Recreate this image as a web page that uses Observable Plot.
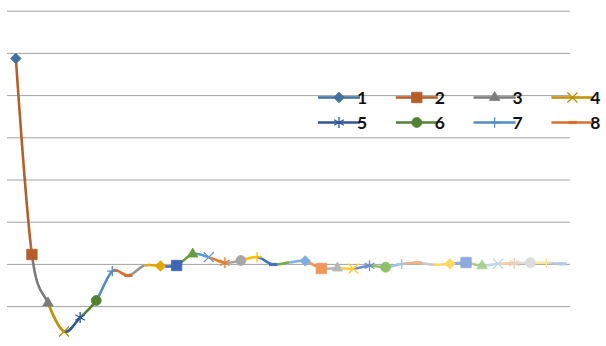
<!DOCTYPE html>
<html>
<head>
<meta charset="utf-8">
<script src="https://cdn.jsdelivr.net/npm/d3@7"></script>
<script src="https://cdn.jsdelivr.net/npm/@observablehq/plot@0.6"></script>
<style>
  body { margin: 0; background: #fff; }
  #chart { position: relative; width: 606px; height: 346px; }
</style>
</head>
<body>
<div id="chart"></div>
<script>
// Category labels (one per point along the curve)
const categories = ["1","2","3","4","5","6","7","8","9","10","11","12","13","14","15","16","17","18",
  "19","20","21","22","23","24","25","26","27","28","29","30","31","32","33","34","35"];

// Value of each point (damped oscillation settling to zero)
const values = [4.879, 0.235, -0.915, -1.590, -1.258, -0.855, -0.161, -0.263, -0.026,
  -0.038, -0.026, 0.246, 0.171, 0.038, 0.092, 0.175, -0.002, 0.045,
  0.081, -0.097, -0.085, -0.104, -0.033, -0.066, 0.009, 0.038, -0.009,
  0.014, 0.045, -0.033, 0.014, 0.028, 0.038, 0.038, 0.014];

// Horizontal gridline values
const gridValues = [-1, 0, 1, 2, 3, 4, 5, 6];

// Number of legend entries shown
const legendCount = 8;

// Per-point colours: six accents, darker first, lighter towards the end
const palette = [
  "#41719C", "#B55E27", "#7C7C7C", "#BF9000", "#2F5597", "#548235",
  "#528CC0", "#D5712C", "#959595", "#E0A800", "#3D67B0", "#639E3F",
  "#5B9BD5", "#ED7D31", "#A5A5A5", "#FFC000", "#4472C4", "#70AD47",
  "#7CAFDD", "#F1975A", "#B7B7B7", "#FFCD33", "#698ED0", "#8CC168",
  "#9DC3E6", "#F4B183", "#C9C9C9", "#FFD966", "#8FAADC", "#A9D18E",
  "#BDD7EE", "#F8CBAD", "#DBDBDB", "#FFE699", "#B4C7E7"
];

// Marker shapes cycle through these
const markerCycle = ["diamond2", "square", "triangle", "times", "asterisk", "circle", "plus", "dash", "none"];

// Short horizontal dash marker
const dashSymbol = {
  draw(context, size) {
    const r = Math.sqrt(size) * 0.55;
    context.moveTo(-r, 0);
    context.lineTo(r, 0);
  }
};

// d3 symbol types used by the legend samples
const legendSymbols = {
  diamond2: d3.symbolDiamond2, square: d3.symbolSquare, triangle: d3.symbolTriangle,
  circle: d3.symbolCircle, times: d3.symbolTimes, asterisk: d3.symbolAsterisk,
  plus: d3.symbolPlus, dash: dashSymbol
};

// Marker styling per shape
const markerStyle = {
  diamond2: {r: 4.8, filled: true},
  square:   {r: 5.9, filled: true},
  triangle: {r: 3.9, filled: true},
  circle:   {r: 5.0, filled: true},
  times:    {r: 4.6, filled: false, width: 1.3},
  asterisk: {r: 5.2, filled: false, width: 1.3},
  plus:     {r: 3.4, filled: false, width: 1.3},
  dash:     {r: 4.2, filled: false, width: 3.2}
};

const rows = categories.map((label, i) => ({
  i, label, value: values[i], color: palette[i], marker: markerCycle[i % markerCycle.length]
}));

const symbolOf = (name) => name === "dash" ? dashSymbol : name;

const lineWidth = 2.6;

// One smoothed line per segment; each is later clipped to its own span
const segmentMarks = d3.range(1, rows.length).map((k) =>
  Plot.line(rows, {x: "i", y: "value", stroke: palette[k], strokeWidth: lineWidth,
    curve: "cardinal", strokeLinejoin: "round", strokeLinecap: "butt"})
);

const markerMarks = Object.entries(markerStyle).map(([name, st]) =>
  Plot.dot(rows.filter((d) => d.marker === name), {
    x: "i", y: "value", symbol: symbolOf(name), r: st.r,
    fill: st.filled ? "color" : "none",
    stroke: "color",
    strokeWidth: st.filled ? 0.75 : st.width
  })
);

const plot = Plot.plot({
  width: 606,
  height: 346,
  marginLeft: 7,
  marginRight: 36,
  marginTop: 10,
  marginBottom: 0,
  x: {domain: [-0.5, categories.length - 0.5], range: [7.3, 570], axis: null},
  y: {domain: [-2, 6], range: [348.3, 10.7], axis: null},
  color: {type: "identity"},
  style: {background: "#fff", overflow: "visible"},
  marks: [
    Plot.ruleY(gridValues, {stroke: "#a3a3a3", strokeWidth: 1}),
    ...segmentMarks,
    ...markerMarks
  ]
});

// Clip every segment line to the horizontal span between its two points
const xs = plot.scale("x");
const svg = d3.select(plot);
const defs = svg.insert("defs", ":first-child");
svg.selectAll('g[aria-label="line"]').each(function (_, j) {
  const k = j + 1;
  const x0 = k === 1 ? 0 : xs.apply(k - 1);
  const x1 = k === rows.length - 1 ? 606 : xs.apply(k);
  const id = "seg-clip-" + k;
  defs.append("clipPath").attr("id", id)
    .append("rect").attr("x", x0).attr("y", -50).attr("width", x1 - x0).attr("height", 450);
  d3.select(this).attr("clip-path", `url(#${id})`);
});

// Legend: line sample with marker, followed by the category label
const legend = svg.append("g").attr("class", "legend");
const legendLeft = 318, legendTop = 97.5, colStep = 77.8, rowStep = 25, sampleLen = 42;
for (let i = 0; i < legendCount; i++) {
  const col = i % 4, row = Math.floor(i / 4);
  const x0 = legendLeft + col * colStep;
  const y = legendTop + row * rowStep;
  const g = legend.append("g");
  g.append("line").attr("x1", x0).attr("x2", x0 + sampleLen).attr("y1", y).attr("y2", y)
    .attr("stroke", palette[i]).attr("stroke-width", lineWidth);
  const name = markerCycle[i];
  const st = markerStyle[name];
  if (st) {
    g.append("path")
      .attr("transform", `translate(${x0 + sampleLen / 2},${y})`)
      .attr("d", d3.symbol(legendSymbols[name], st.r * st.r * Math.PI)())
      .attr("fill", st.filled ? palette[i] : "none")
      .attr("stroke", palette[i])
      .attr("stroke-width", st.filled ? 0.75 : st.width);
  }
  g.append("text").attr("x", x0 + sampleLen + 2).attr("y", y + 6.2)
    .attr("font-family", "Lato, 'Open Sans', sans-serif").attr("font-weight", "bold")
    .attr("font-size", 17.5).attr("fill", "#111")
    .text(categories[i]);
}

document.getElementById("chart").appendChild(plot);
</script>
</body>
</html>
